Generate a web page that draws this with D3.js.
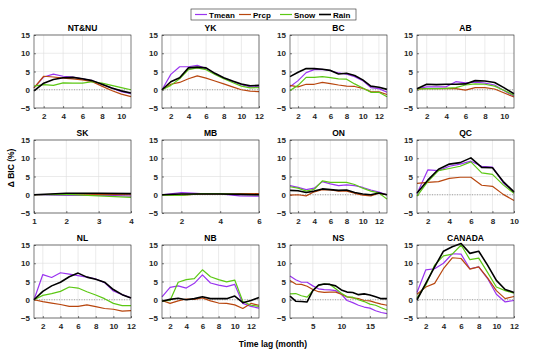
<!DOCTYPE html>
<html>
<head>
<meta charset="utf-8">
<script src="https://cdn.jsdelivr.net/npm/d3@7"></script>
<style>
  body { margin: 0; background: #fff; }
  svg { font-family: "Liberation Sans", Arial, sans-serif; }
</style>
</head>
<body>
<svg id="figure" width="550" height="355"></svg>
<script>
// données
const regions = ["NT&NU", "YK", "BC", "AB", "SK", "MB", "ON", "QC", "NL", "NB", "NS", "CANADA"];
const lagMax = [11, 12, 13, 11, 4, 6, 13, 10, 12, 13, 18, 12];
const xTicks = [
  [2, 4, 6, 8, 10], [2, 4, 6, 8, 10, 12], [2, 4, 6, 8, 10, 12], [2, 4, 6, 8, 10],
  [1, 2, 3, 4], [2, 4, 6], [2, 4, 6, 8, 10, 12], [2, 4, 6, 8, 10],
  [2, 4, 6, 8, 10, 12], [2, 4, 6, 8, 10, 12], [5, 10, 15], [2, 4, 6, 8, 10, 12]
];
const yTicks = [-5, 0, 5, 10, 15];
const seriesNames = ["Tmean", "Prcp", "Snow", "Rain"];

const tmean = [
  [0.5, 3.5, 4.3, 3.7, 3.5, 3.0, 2.5, 1.5, 0.5, -0.5, -1.1],
  [0, 4.2, 6.3, 6.3, 6.7, 5.8, 4.3, 3.2, 2.3, 1.4, 0.8, 0.8],
  [0.8, 2.5, 4.7, 5.5, 5.6, 5.2, 4.6, 4.3, 3.6, 2.5, 0.6, 0.3, -0.7],
  [0.3, 0.8, 0.8, 0.8, 2.2, 1.9, 2.1, 1.8, 1.3, -0.3, -1.8],
  [0, -0.2, -0.1, -0.4],
  [0, 0.6, 0.3, 0.2, -0.3, -0.4],
  [2.5, 2.0, 1.4, 1.8, 3.6, 3.0, 2.5, 2.7, 2.5, 2.0, 1.3, 0.7, 0.0],
  [0.3, 6.8, 6.6, 7.8, 8.4, 9.2, 7.8, 7.6, 3.3, 0.6],
  [0, 6.9, 6.1, 7.4, 7.0, 6.6, 6.2, 5.7, 4.7, 2.4, 1.4, 0.5],
  [0.8, 3.4, 3.8, 3.2, 4.5, 6.8, 4.6, 4.0, 3.6, 4.2, -1.0, -1.8, -2.3],
  [6.5, 5.5, 4.8, 4.8, 3.8, 3.0, 2.8, 2.7, 2.5, 1.5, -0.2, -0.8, -1.5, -2.0, -2.3, -3.0, -3.5, -3.8],
  [2.0, 8.2, 8.5, 10.0, 12.6, 12.5, 8.5, 9.0, 5.8, 1.5, -0.6, -0.2]
];
const prcp = [
  [0.5, 3.7, 3.5, 3.2, 3.0, 2.7, 2.2, 1.0, -0.2, -1.2, -1.9],
  [0, 1.5, 2.0, 3.0, 3.8, 3.2, 2.4, 1.6, 0.8, 0.0, -0.4, -0.5],
  [1.2, 0.8, 1.5, 1.5, 2.0, 1.7, 1.3, 1.0, 0.9, 0.4, -0.5, -0.6, -1.3],
  [0.2, 0.3, 0.3, 0.4, 0.3, -0.1, 0.6, 0.6, 0.2, -0.9, -2.0],
  [0, 0.2, 0.1, 0.0],
  [0, -0.1, 0.2, 0.2, 0.3, 0.3],
  [-0.1, 0.0, -0.3, 0.8, 1.4, 1.3, 1.0, 1.0, 0.4, -0.1, -0.3, 0.4, 0.0],
  [3.1, 3.4, 3.6, 4.5, 4.8, 4.8, 2.6, 2.3, 0.1, -1.6],
  [0, -0.5, -0.9, -1.3, -1.8, -1.8, -1.4, -1.9, -2.4, -2.6, -3.1, -3.0],
  [-0.2, -1.0, -0.3, 0.2, 0.1, 0.5, -0.3, -0.9, -1.0, -1.4, -2.4, -1.0, -1.5],
  [5.3, 4.3, 4.2, 3.7, 2.8, 2.2, 2.0, 2.1, 2.1, 1.5, 0.8, 0.5, 0.3, -0.2, -0.3, -0.8, -1.2, -1.5],
  [1.5, 3.5, 4.5, 8.5, 11.5, 11.3, 8.4, 9.0, 6.0, 2.5, 0.3, 0.9]
];
const snow = [
  [1.0, 1.4, 1.2, 1.9, 1.8, 1.8, 2.2, 1.8, 1.2, 0.6, 0.0],
  [0, 1.2, 3.0, 5.5, 6.0, 5.5, 4.2, 3.0, 2.0, 1.0, 0.5, 0.6],
  [-0.2, 1.2, 3.4, 3.4, 3.6, 3.3, 3.0, 2.9, 1.6, 0.5, -0.7, -0.7, -1.9],
  [0.2, 0.3, 0.3, 0.4, 0.6, 1.3, 1.6, 1.5, 1.0, -0.2, -1.5],
  [0, 0.1, -0.3, -0.7],
  [-0.1, -0.2, 0.3, 0.3, 0.1, 0.0],
  [2.2, 1.8, 1.0, 1.5, 3.8, 3.4, 3.4, 3.4, 2.8, 1.8, 1.0, 0.5, -1.2],
  [-0.4, 3.6, 6.6, 7.2, 7.8, 9.0, 6.0, 5.6, 2.7, 0.4],
  [0, 1.2, 1.7, 2.3, 3.5, 3.2, 2.2, 1.3, 0.3, -1.0, -1.6, -1.6],
  [-0.3, -0.2, 4.8, 5.5, 5.8, 8.2, 6.3, 5.5, 4.9, 5.4, -0.5, -1.5, -1.8],
  [1.6, 1.7, 1.1, 0.7, 2.5, 4.0, 4.3, 4.2, 3.0, 1.8, 0.8, 0.7, 0.0, -0.5, -1.2, -1.5, -2.2, -2.8],
  [0.5, 4.0, 9.5, 12.0, 12.5, 15.0, 11.0, 11.4, 7.5, 3.5, 2.5, 1.8]
];
const rain = [
  [-0.3, 1.8, 2.8, 3.3, 3.4, 3.0, 2.5, 1.5, 0.5, -0.3, -0.9],
  [0, 2.2, 3.3, 6.0, 6.2, 6.0, 4.5, 3.3, 2.4, 1.6, 1.1, 1.2],
  [3.6, 4.8, 5.8, 5.8, 5.6, 5.3, 4.3, 4.5, 3.9, 2.7, 1.0, 0.7, 0.1],
  [0.3, 1.5, 1.4, 1.5, 1.5, 1.6, 2.5, 2.4, 2.0, 0.5, -1.1],
  [0, 0.4, 0.4, 0.3],
  [0, 0.2, 0.2, 0.2, 0.1, 0.0],
  [1.2, 1.1, 0.6, 1.0, 1.6, 1.4, 1.2, 1.3, 0.6, 0.2, 0.0, 0.5, 0.0],
  [0.5, 4.0, 7.0, 8.4, 8.8, 10.1, 7.5, 7.4, 3.6, 0.8],
  [0, 2.3, 3.8, 4.8, 6.3, 7.3, 6.2, 5.6, 4.8, 2.8, 1.4, 0.5],
  [-0.4, 0.1, 0.4, 0.0, 0.3, 0.8, 0.3, 0.3, 0.3, 1.0, -0.8, -0.2, 0.6],
  [1.0, -0.4, -0.5, -0.6, 2.5, 4.0, 4.3, 4.2, 3.8, 2.7, 2.1, 2.0, 1.4, 1.6, 1.3, 0.8, 0.3, 0.3],
  [0, 4.5, 9.0, 13.3, 14.5, 15.4, 12.7, 13.3, 9.5, 5.3, 2.8, 2.0]
];

// mise en page
const couleurs = ["#9a34f0", "#b8460e", "#5cc814", "#000000"];
const epaisseurs = [1.2, 1.2, 1.2, 1.6];
const colGauche = [34, 162, 290, 417];
const ligneHaut = [35, 140, 245];
const largeur = 97, hauteur = 73;
const allSeries = [tmean, prcp, snow, rain];

const svg = d3.select("#figure");

regions.forEach((nom, k) => {
  const gx = colGauche[k % 4], gy = ligneHaut[Math.floor(k / 4)];
  const x = d3.scaleLinear().domain([1, lagMax[k]]).range([0, largeur]);
  const y = d3.scaleLinear().domain([-5, 15]).range([hauteur, 0]);

  const g = svg.append("g").attr("transform", `translate(${gx},${gy})`);

  // grille
  g.selectAll(".gx").data(xTicks[k]).join("line")
    .attr("x1", d => x(d)).attr("x2", d => x(d))
    .attr("y1", 0).attr("y2", hauteur)
    .attr("stroke", "#dedede").attr("stroke-width", 0.6);
  g.selectAll(".gy").data(yTicks).join("line")
    .attr("x1", 0).attr("x2", largeur)
    .attr("y1", d => y(d)).attr("y2", d => y(d))
    .attr("stroke", "#dedede").attr("stroke-width", 0.6);

  // ligne zéro pointillée
  g.append("line")
    .attr("x1", 0).attr("x2", largeur)
    .attr("y1", y(0)).attr("y2", y(0))
    .attr("stroke", "#8c8c8c").attr("stroke-width", 0.8)
    .attr("stroke-dasharray", "1,1.5");

  // axes
  const axeX = g.append("g").attr("transform", `translate(0,${hauteur})`)
    .call(d3.axisBottom(x).tickValues(xTicks[k]).tickFormat(d3.format("d")).tickSize(-2).tickPadding(5));
  const axeY = g.append("g")
    .call(d3.axisLeft(y).tickValues(yTicks).tickFormat(d3.format("d")).tickSize(-2).tickPadding(4));
  [axeX, axeY].forEach(a => {
    a.select(".domain").remove();
    a.selectAll("line").attr("stroke", "#262626").attr("stroke-width", 0.6);
    a.selectAll("text")
      .attr("fill", "#262626")
      .style("font-size", "8px")
      .style("font-weight", "bold")
      .style("font-family", "'Liberation Sans', Arial, sans-serif");
  });

  // courbes
  const ligne = d3.line().x((d, i) => x(i + 1)).y(d => y(d));
  allSeries.forEach((s, j) => {
    g.append("path")
      .attr("d", ligne(s[k]))
      .attr("fill", "none")
      .attr("stroke", couleurs[j])
      .attr("stroke-width", epaisseurs[j])
      .attr("stroke-linejoin", "round");
  });

  // cadre
  g.append("rect")
    .attr("width", largeur).attr("height", hauteur)
    .attr("fill", "none").attr("stroke", "#262626").attr("stroke-width", 0.6);

  // titre
  g.append("text")
    .attr("x", largeur / 2).attr("y", -4)
    .attr("text-anchor", "middle")
    .style("font-size", "8.5px")
    .style("font-weight", "bold")
    .text(nom);
});

// légende
const leg = svg.append("g").attr("transform", "translate(191,9)");
leg.append("rect").attr("width", 165).attr("height", 11)
  .attr("fill", "#fff").attr("stroke", "#262626").attr("stroke-width", 0.6);
const posLeg = [4, 48, 89, 128];
seriesNames.forEach((n, j) => {
  leg.append("line")
    .attr("x1", posLeg[j]).attr("x2", posLeg[j] + 12)
    .attr("y1", 5.5).attr("y2", 5.5)
    .attr("stroke", couleurs[j]).attr("stroke-width", epaisseurs[j]);
  leg.append("text")
    .attr("x", posLeg[j] + 14).attr("y", 8.5)
    .style("font-size", "8px").style("font-weight", "bold")
    .text(n);
});

// titres des axes
svg.append("text")
  .attr("transform", "translate(14,168) rotate(-90)")
  .attr("text-anchor", "middle")
  .style("font-size", "8.5px").style("font-weight", "bold")
  .text("Δ BIC (%)");
svg.append("text")
  .attr("x", 273).attr("y", 347)
  .attr("text-anchor", "middle")
  .style("font-size", "8.5px").style("font-weight", "bold")
  .text("Time lag (month)");
</script>
</body>
</html>
